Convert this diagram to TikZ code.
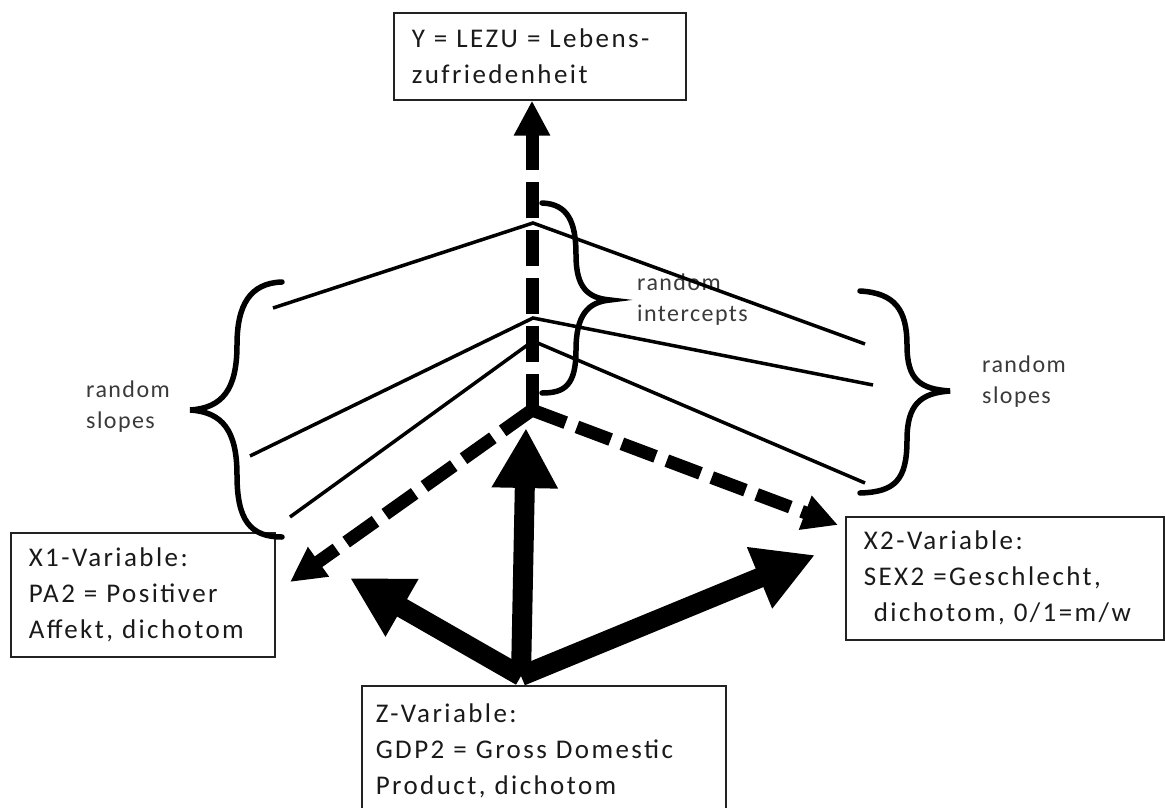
\documentclass[tikz,border=0pt]{standalone}
\usepackage{fontspec}
\setmainfont{Carlito}
\newfontfamily\boxfont{Carlito}[LetterSpace=9]
\newfontfamily\labelfont{Carlito}[LetterSpace=6]
\usetikzlibrary{arrows.meta, positioning, calc}
\definecolor{boxline}{HTML}{222222}
\definecolor{textmain}{HTML}{1A1A1A}
\definecolor{textlabel}{HTML}{3A3A3A}

\tikzset{
  varbox/.style={draw=boxline, line width=1.6pt, fill=white, anchor=north west,
                 align=left, inner xsep=18pt, inner ysep=0pt, text=textmain,
                 font=\boxfont\fontsize{27}{36}\selectfont},
  effectlbl/.style={anchor=west, align=left, inner sep=0pt, text=textlabel,
                    font=\labelfont\fontsize{24}{31}\selectfont},
  dasharrow/.style={line width=13pt, dash pattern=on 36pt off 12pt,
                    -{Triangle[length=35pt,width=34pt]}},
  fatarrow/.style={line width=20pt, -{Triangle[length=60pt,width=62pt]}},
  slopeline/.style={line width=3.5pt},
  bracecurve/.style={line width=5.5pt, line cap=round}
}

\begin{document}
\begin{tikzpicture}[x=1pt, y=-1pt]
    \clip (0,0) rectangle (1165,808);

    % variable boxes
    \node[varbox, text width=256pt, minimum height=87pt] (ybox) at (393,12) {
      Y = LEZU = Lebens-\\
      zufriedenheit
    };
    \node[varbox, text width=228pt, minimum height=124pt] (xone) at (10,532) {
      X1-Variable:\\
      PA2 = Positiver\\
      Affekt, dichotom
    };
    \node[varbox, text width=282pt, minimum height=123pt] (xtwo) at (845,516) {
      X2-Variable:\\
      SEX2 =Geschlecht,\\
      \hspace*{10pt}dichotom, 0/1=m/w
    };
    \node[varbox, text width=336pt, inner xsep=14pt, minimum height=130pt] (zbox) at (361,685) {
      Z-Variable:\\
      GDP2 = Gross Domestic\\
      Product, dichotom
    };

    % anchor points
    \coordinate (O) at (532,410);
    \coordinate (xonetip) at (290,582);
    \coordinate (xtwotip) at (838,525);
    \coordinate (zroot) at (521,676);
    \coordinate (zup) at (526,428);
    \coordinate (zleft) at (350,578);
    \coordinate (zright) at (815,555);
    \coordinate (i1) at (533,223);
    \coordinate (i2) at (533,318);
    \coordinate (i3) at (533,341);

    % labels
    \node[effectlbl] (slopesleft) at (86,407) {random\\slopes};
    \node[effectlbl] (intercepts) at (637,300) {random\\intercepts};
    \node[effectlbl] (slopesright) at (982,382) {random\\slopes};

    % regression lines
    \draw[slopeline] (273,308) -- (i1) -- (865,344);
    \draw[slopeline] (250,456) -- (i2) -- (873,385);
    \draw[slopeline] (290,517) -- (i3) -- (865,483);

    % braces
    \draw[bracecurve] (282,282) .. controls (250,283) and (237,305) .. (237,345)
      .. controls (237,390) and (222,408) .. (190,410)
      .. controls (222,412) and (237,430) .. (237,475)
      .. controls (237,520) and (250,537) .. (282,537);
    \draw[bracecurve] (542,203) .. controls (568,204) and (576,222) .. (576,255)
      .. controls (576,288) and (588,298) .. (610,300)
      .. controls (588,302) and (576,315) .. (576,350)
      .. controls (576,385) and (565,393) .. (542,393);
    \draw[bracecurve] (860,291) .. controls (895,293) and (907,310) .. (907,345)
      .. controls (907,380) and (920,389) .. (950,391)
      .. controls (920,393) and (907,405) .. (907,440)
      .. controls (907,480) and (895,492) .. (860,493);

    % dashed effects
    \draw[dasharrow] (O) -- (O |- ybox.south);
    \draw[dasharrow] (O) -- (xonetip);
    \draw[dasharrow] (O) -- (xtwotip);

    % level-2 effects
    \draw[fatarrow] (zroot) -- (zup);
    \draw[fatarrow] (zroot) -- (zleft);
    \draw[fatarrow] (zroot) -- (zright);
  \end{tikzpicture}
\end{document}
